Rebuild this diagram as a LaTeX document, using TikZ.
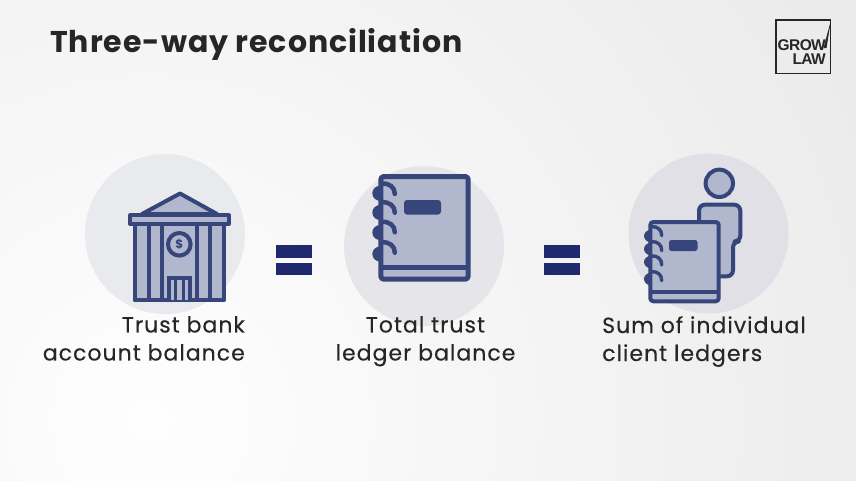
\documentclass[tikz,border=0pt]{standalone}
\usepackage{fontspec}
\setmainfont{Poppins}
\newfontfamily\logofont{Liberation Sans}[LetterSpace=-4]
\definecolor{icondark}{HTML}{36457A}
\definecolor{iconfill}{HTML}{B1B7CC}
\definecolor{equalblue}{HTML}{1F2A6E}
\definecolor{logoink}{HTML}{262626}
\definecolor{discone}{HTML}{E9EAED}
\definecolor{disctwo}{HTML}{E6E6EA}
\definecolor{discthree}{HTML}{E0E0E6}
\definecolor{bginner}{HTML}{FEFEFE}
\definecolor{bgouter}{HTML}{E8E8E8}
\tikzset{
  icon/.style={draw=icondark,fill=iconfill,line width=4pt,line join=round},
  iconline/.style={draw=icondark,line width=4pt},
  ring/.style={draw=icondark,line width=4.5pt,line cap=round},
  equalbar/.style={fill=equalblue,draw=none},
  caption/.style={font=\fontsize{22}{28}\selectfont\addfontfeatures{LetterSpace=4.6,FakeBold=0.25},text=black!85,inner sep=0pt},
}
\begin{document}
\begin{tikzpicture}[x=1pt,y=-1pt]
\useasboundingbox (0,0) rectangle (856,480);
\begin{scope}
\clip (0,0) rectangle (856,480);
\shade[inner color=bginner,outer color=bgouter] (150,420) circle [radius=900];
\end{scope}
\node[font=\fontsize{30}{36}\selectfont\bfseries\addfontfeatures{LetterSpace=3.2},text=black!85,inner sep=0pt,anchor=west] (title) at (50,44) {Three-way reconciliation};
% backing discs
\fill[discone] (165,234) circle [radius=80];
\fill[disctwo] (424,246) circle [radius=80];
\fill[discthree] (708.5,233.5) circle [radius=80];
% bank
\draw[icon] (180,193.5) -- (217,214) -- (142,214) -- cycle;
\draw[icon] (134.7,224) rectangle (224,300.3);
\draw[icon] (130.3,215.3) rectangle (228.7,224);
\foreach \colx in {149.3,161.7,197.3,210} \draw[iconline] (\colx,224) -- (\colx,300);
\draw[icon] (179.3,244.3) circle [radius=11.3];
\node[font=\fontsize{12}{12}\selectfont\bfseries,text=icondark,inner sep=0pt] (dollar) at (179.3,244.3) {\$};
\draw[iconline,fill=iconfill,line width=4pt] (169.3,300) -- (169.3,277.7) -- (189.7,277.7) -- (189.7,300);
\foreach \doorx in {175.5,183} \draw[iconline,line width=3pt] (\doorx,277.7) -- (\doorx,300);
% equals
\fill[equalbar] (275.7,245.3) rectangle (311.7,258);
\fill[equalbar] (275.7,262.7) rectangle (311.7,275);
\fill[equalbar] (543.5,245.3) rectangle (579.5,258);
\fill[equalbar] (543.5,262.7) rectangle (579.5,275);
% big ledger
\foreach \ringy in {193.3,212.5,232.5,254} \fill[icondark] (380,\ringy) ellipse [x radius=7.7,y radius=7.5];
\draw[icon,line width=5pt,rounded corners=3pt] (380.8,176.5) rectangle (468.2,279.2);
\draw[iconline,line width=4.5pt] (380.8,267.5) -- (468.2,267.5);
\fill[icondark,rounded corners=3pt] (404,200) rectangle (441,214.5);
\foreach \ringy in {194,212.7,232.3,252.7}
  \draw[ring] (381.5,\ringy-10.5) .. controls (389,\ringy-11) and (395,\ringy-7) .. (394.8,\ringy);
% person behind small ledger
\draw[icon] (719.3,183.3) circle [radius=13.7];
\draw[icon,rounded corners=6pt] (699,222) -- (699,204.7) -- (740.3,204.7) -- (740.3,241.5) -- (733,241.5) -- (733,276.3) -- (715,276.3);
% small ledger
\foreach \ringy in {236,249,262,279} \fill[icondark] (651,\ringy) ellipse [x radius=7,y radius=6.2];
\draw[icon,line width=4pt,rounded corners=3pt] (650.3,222) rectangle (718.7,301.3);
\draw[iconline] (650.3,292) -- (718.7,292);
\fill[icondark,rounded corners=2.5pt] (669,240) rectangle (697.5,251);
\foreach \ringy in {235.7,250.7,265,280.7}
  \draw[ring,line width=3.4pt] (652,\ringy-9) .. controls (657,\ringy-9.5) and (662,\ringy-6) .. (661.7,\ringy);
% captions
\node[caption,align=right,anchor=north east] (bankcap) at (245,316) {Trust bank\\account balance};
\node[caption,align=center,anchor=north] (ledgercap) at (425.5,316) {Total trust\\ledger balance};
\node[caption,align=left,anchor=north west] (clientcap) at (602,316) {Sum of individual\\client ledgers};
% logo
\draw[logoink,line width=1.8pt] (830.5,20.2) -- (830.5,73.5) -- (776,73.5) -- (776,20.2) -- cycle;
\fill[logoink] (831,20) -- (826.5,48) -- (823.5,48) -- cycle;
\node[font=\fontsize{15.5}{14}\selectfont\logofont\bfseries,align=right,text=logoink,inner sep=0pt,anchor=east] (logotext) at (826,52.5) {GROW\\LAW};
\end{tikzpicture}
\end{document}
